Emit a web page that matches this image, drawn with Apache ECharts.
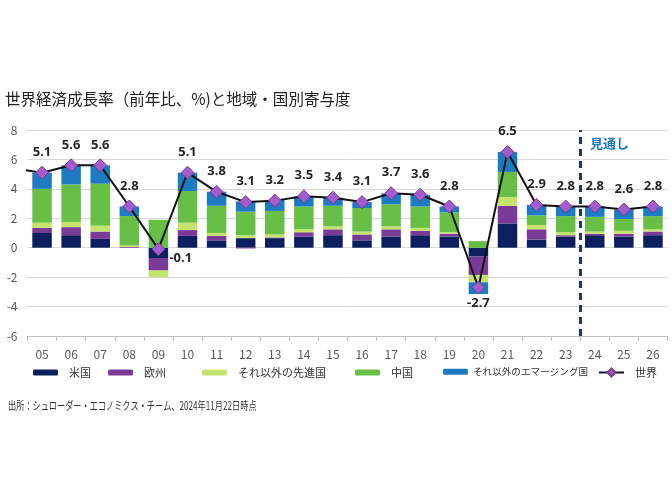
<!DOCTYPE html>
<html><head><meta charset="utf-8">
<script src="https://cdn.jsdelivr.net/npm/echarts@6/dist/echarts.min.js"></script>
<style>html,body{margin:0;padding:0;background:#fff}#c{width:672px;height:504px}</style>
</head><body><div id="c"></div>
<script>
const years = ['05','06','07','08','09','10','11','12','13','14','15','16','17','18','19','20','21','22','23','24','25','26'];
const usContrib  = [1.0, 0.85, 0.6, 0.0, -0.7, 0.8, 0.5, 0.65, 0.65, 0.75, 0.85, 0.5, 0.75, 0.85, 0.75, -0.6, 1.65, 0.55, 0.75, 0.85, 0.75, 0.85];
const euContrib  = [0.35, 0.55, 0.5, 0.05, -0.85, 0.4, 0.3, -0.05, 0.05, 0.3, 0.4, 0.4, 0.5, 0.3, 0.2, -1.25, 1.2, 0.7, 0.1, 0.1, 0.2, 0.25];
const otherAdv   = [0.35, 0.35, 0.4, 0.1, -0.45, 0.5, 0.2, 0.2, 0.2, 0.2, 0.2, 0.2, 0.2, 0.2, 0.1, -0.5, 0.6, 0.3, 0.2, 0.15, 0.2, 0.15];
const chinaContrib = [2.3, 2.55, 2.85, 2.0, 1.9, 2.15, 1.85, 1.6, 1.6, 1.55, 1.4, 1.6, 1.5, 1.45, 1.35, 0.45, 1.7, 0.65, 1.1, 1.0, 0.8, 0.9];
const otherEM    = [1.1, 1.3, 1.25, 0.65, 0, 1.25, 0.95, 0.7, 0.75, 0.7, 0.55, 0.4, 0.75, 0.8, 0.4, -0.8, 1.35, 0.7, 0.65, 0.7, 0.65, 0.65];
const worldGrowth = [5.1, 5.6, 5.6, 2.8, -0.1, 5.1, 3.8, 3.1, 3.2, 3.5, 3.4, 3.1, 3.7, 3.6, 2.8, -2.7, 6.5, 2.9, 2.8, 2.8, 2.6, 2.8];
const world04 = 5.4;
const yTicks = [-6, -4, -2, 0, 2, 4, 6, 8];
const forecastFrom = '24';

const C = {us:'#0c1f5e', eu:'#7a3b98', oa:'#c6e46c', cn:'#68bf45', em:'#1d7bc1'};
const jp = '"Noto Sans CJK JP", "Noto Sans", sans-serif';

const chart = echarts.init(document.getElementById('c'));
function barSeries(name, data, color) {
  return { name, type:'bar', stack:'g', data, barCategoryGap:'33%', itemStyle:{color}, xAxisIndex:0, yAxisIndex:0 };
}
const specialLabels = {
  4: {position:'right', distance:4, offset:[0,9]},
  15: {position:'bottom', distance:2}
};
const worldData = worldGrowth.map((v,i)=> specialLabels[i] ? {value:v, label:specialLabels[i]} : v);
const fIdx = years.indexOf(forecastFrom) - 0.5;

const legendDefs = [
  ['米国', 28], ['欧州', 103], ['それ以外の先進国', 197], ['中国', 350], ['それ以外のエマージング国', 438], ['世界', 593]
];

chart.setOption({
  animation:false,
  textStyle:{fontFamily:jp},
  grid:{left:27.5, right:4.5, top:130, bottom:168},
  legend: legendDefs.map(([n,l])=>({
    data:[n], left:l, top:362, itemWidth:25, itemHeight:n==='世界'?10:6,
    textStyle:{fontSize:n.length>8?9.6:11, color:'#333', fontFamily:jp, padding:[0,0,0,n.length>8?0:6]}
  })),
  xAxis:[
    {type:'category', data:years, position:'bottom', axisLine:{show:false}, axisTick:{show:false},
     axisLabel:{color:'#595959', fontSize:12, margin:12}},
    {type:'category', data:years, position:'bottom', axisLine:{onZero:true, lineStyle:{color:'#bfbfbf'}},
     axisTick:{show:true, length:5, lineStyle:{color:'#bfbfbf'}}, axisLabel:{show:false}},
    {type:'value', min:-0.5, max:years.length-0.5, show:false}
  ],
  yAxis:{type:'value', min:yTicks[0], max:yTicks[yTicks.length-1], interval:2,
    axisLine:{show:false}, axisTick:{show:false},
    axisLabel:{color:'#595959', fontSize:12, margin:10},
    splitLine:{lineStyle:{color:'#d9d9d9'}}},
  series:[
    barSeries('米国', usContrib, C.us),
    barSeries('欧州', euContrib, C.eu),
    barSeries('それ以外の先進国', otherAdv, C.oa),
    barSeries('中国', chinaContrib, C.cn),
    barSeries('それ以外のエマージング国', otherEM, C.em),
    {name:'世界lead', type:'line', xAxisIndex:2, data:[[-1, world04],[0, worldGrowth[0]]], symbol:'none', clip:true,
     lineStyle:{color:'#111', width:2}, z:9, silent:true,
     markLine:{silent:true, symbol:'none', label:{show:false}, z:5,
        lineStyle:{type:[7,5], color:'#1f3864', width:3},
        data:[{xAxis:fIdx}]}},
    {name:'世界', type:'line', data:worldData, z:10,
     symbol:'diamond', symbolSize:13,
     itemStyle:{color:'#a45ccc', borderColor:'#7b3a96', borderWidth:1},
     lineStyle:{color:'#111', width:2},
     label:{show:true, position:'top', distance:7, fontSize:13, fontWeight:'bold', color:'#262626',
       fontFamily:'"Noto Sans", sans-serif', formatter:p=>p.value.toFixed(1)}}
  ],
  graphic:[
    {type:'text', left:5, top:91, style:{text:'世界経済成長率（前年比、%)と地域・国別寄与度', fill:'#222', font:'16px '+jp}, scaleX:0.97},
    {type:'text', left:590, top:137, style:{text:'見通し', fill:'#1d7bc1', font:'bold 13px '+jp}},
    {type:'text', left:8, top:400, style:{text:'出所：シュローダー・エコノミクス・チーム、2024年11月22日時点', fill:'#333', font:'11.5px '+jp}, scaleX:0.71}
  ]
});
</script></body></html>
